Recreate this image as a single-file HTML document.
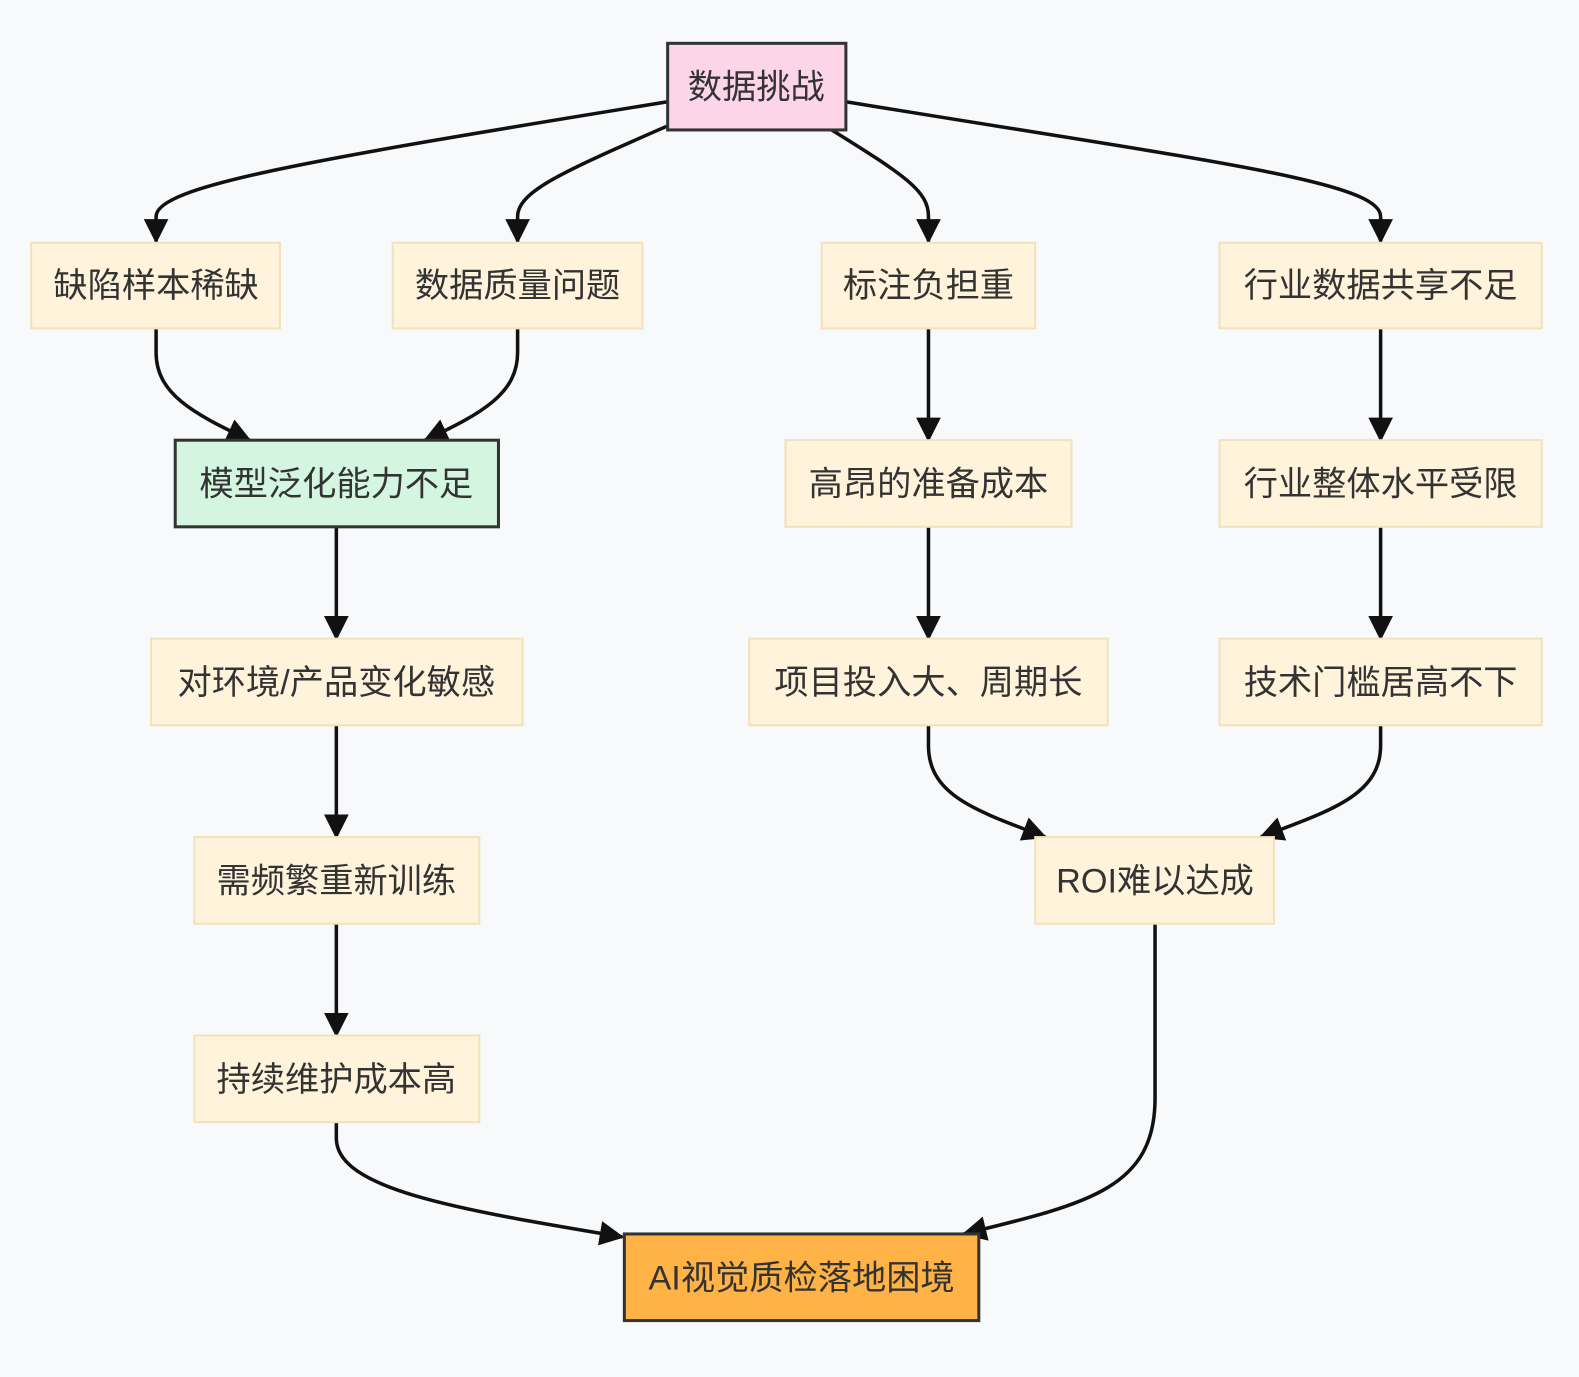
<!DOCTYPE html>
<html><head><meta charset="utf-8"><style>
html,body{margin:0;padding:0;background:#f8f9fb}
svg{display:block}
text{font-family:"Liberation Sans","Noto Sans CJK SC",sans-serif;font-size:34px;fill:#333;text-anchor:middle;dominant-baseline:central}
.n{fill:#fff3dc;stroke:#f0e2bc;stroke-width:2}
.e{fill:none;stroke:#111;stroke-width:3.5}
</style></head><body>
<svg width="1579" height="1377" viewBox="0 0 1568 1367" preserveAspectRatio="none">
<defs><marker id="a" viewBox="0 0 12 12" refX="11" refY="6" markerWidth="7" markerHeight="7" markerUnits="strokeWidth" orient="auto"><path d="M0,0 L12,6 L0,12 z" fill="#111"/></marker></defs>
<rect width="1568" height="1367" fill="#f8f9fb"/>
<g class="e" marker-end="url(#a)">
<path d="M663,101 C300,160 155,185 155,215 L155,240"/>
<path d="M663,125 C560,170 514,190 514,215 L514,240"/>
<path d="M826,129 C900,175 922,190 922,215 L922,240"/>
<path d="M840,101 C1200,160 1371,180 1371,215 L1371,240"/>
<path d="M155,326 V350 C155,390 190,410 248,437"/>
<path d="M514,326 V350 C514,390 480,410 422,437"/>
<path d="M334,523 V634"/>
<path d="M922,326 V437"/>
<path d="M922,523 V634"/>
<path d="M1371,326 V437"/>
<path d="M1371,523 V634"/>
<path d="M334,720 V831"/>
<path d="M334,917 V1028"/>
<path d="M922,720 V740 C922,790 970,805 1038,831"/>
<path d="M1371,720 V740 C1371,790 1320,805 1252,831"/>
<path d="M334,1114 V1130 C334,1180 450,1200 618,1228"/>
<path d="M1147,917 V1090 C1147,1180 1080,1195 957,1225"/>
</g>
<rect x="663" y="43" width="177" height="86" fill="#fcd5e8" stroke="#333" stroke-width="3"/><text x="751" y="87">数据挑战</text>
<rect class="n" x="31" y="241" width="247" height="85"/><text x="155" y="284">缺陷样本稀缺</text>
<rect class="n" x="390" y="241" width="248" height="85"/><text x="514" y="284">数据质量问题</text>
<rect class="n" x="816" y="241" width="212" height="85"/><text x="922" y="284">标注负担重</text>
<rect class="n" x="1211" y="241" width="320" height="85"/><text x="1371" y="284">行业数据共享不足</text>
<rect x="174" y="437" width="321" height="86" fill="#d4f5e0" stroke="#333" stroke-width="3"/><text x="334" y="481">模型泛化能力不足</text>
<rect class="n" x="780" y="437" width="284" height="86"/><text x="922" y="481">高昂的准备成本</text>
<rect class="n" x="1211" y="437" width="320" height="86"/><text x="1371" y="481">行业整体水平受限</text>
<rect class="n" x="150" y="634" width="369" height="86"/><text x="334" y="678">对环境/产品变化敏感</text>
<rect class="n" x="744" y="634" width="356" height="86"/><text x="922" y="678">项目投入大、周期长</text>
<rect class="n" x="1211" y="634" width="320" height="86"/><text x="1371" y="678">技术门槛居高不下</text>
<rect class="n" x="193" y="831" width="283" height="86"/><text x="334" y="875">需频繁重新训练</text>
<rect class="n" x="1028" y="831" width="237" height="86"/><text x="1147" y="875">ROI难以达成</text>
<rect class="n" x="193" y="1028" width="283" height="86"/><text x="334" y="1072">持续维护成本高</text>
<rect x="620" y="1225" width="352" height="86" fill="#ffb347" stroke="#333" stroke-width="3"/><text x="796" y="1269">AI视觉质检落地困境</text>
</svg>
</body></html>
